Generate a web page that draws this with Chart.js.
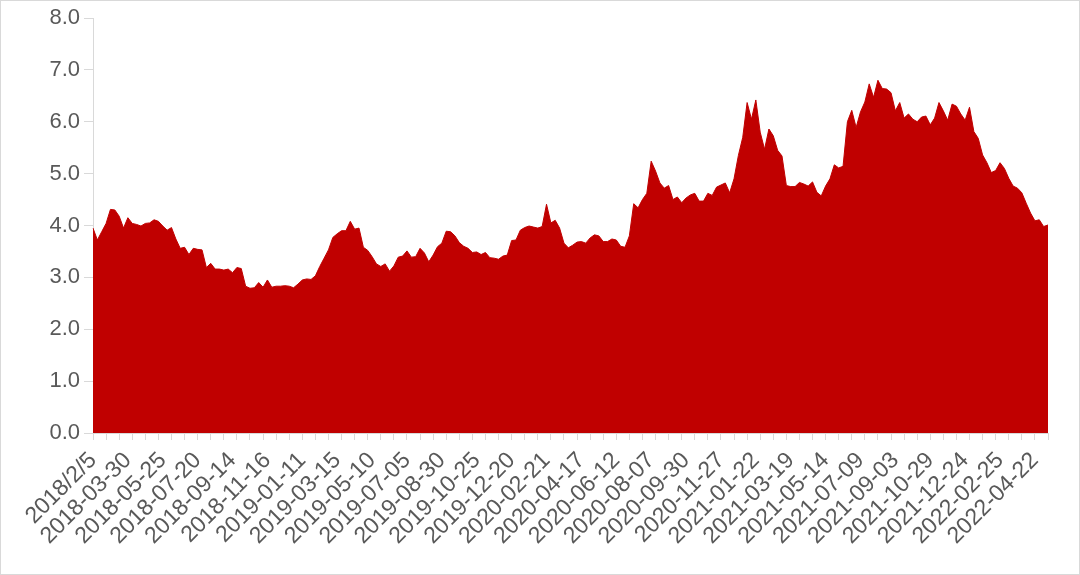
<!DOCTYPE html>
<html>
<head>
<meta charset="utf-8">
<script src="https://cdn.jsdelivr.net/npm/chart.js@4/dist/chart.umd.min.js"></script>
<style>
  html, body { margin: 0; padding: 0; background: #fff; }
  #chart { display: block; }
</style>
</head>
<body>
<canvas id="chart" width="1080" height="575"></canvas>
<script>
// weekly values, first point 2018/2/5
const values = [
  3.95, 3.72, 3.88, 4.04, 4.31, 4.30, 4.18, 3.95, 4.15, 4.04,
  4.02, 3.99, 4.04, 4.05, 4.11, 4.08, 3.99, 3.91, 3.96, 3.74,
  3.56, 3.58, 3.44, 3.56, 3.54, 3.53, 3.19, 3.27, 3.16, 3.16,
  3.14, 3.16, 3.09, 3.19, 3.17, 2.83, 2.79, 2.80, 2.90, 2.81,
  2.95, 2.81, 2.83, 2.83, 2.84, 2.83, 2.80, 2.87, 2.95, 2.97,
  2.96, 3.03, 3.21, 3.37, 3.53, 3.77, 3.84, 3.90, 3.90, 4.08,
  3.93, 3.95, 3.58, 3.52, 3.40, 3.26, 3.21, 3.26, 3.12, 3.22,
  3.39, 3.41, 3.51, 3.39, 3.40, 3.56, 3.47, 3.30, 3.43, 3.59,
  3.66, 3.89, 3.88, 3.80, 3.67, 3.60, 3.56, 3.48, 3.49, 3.44,
  3.48, 3.38, 3.37, 3.35, 3.41, 3.43, 3.71, 3.72, 3.91, 3.96,
  3.99, 3.97, 3.95, 3.98, 4.41, 4.05, 4.10, 3.95, 3.66, 3.57,
  3.62, 3.68, 3.69, 3.66, 3.76, 3.82, 3.80, 3.69, 3.69, 3.74,
  3.72, 3.60, 3.58, 3.80, 4.42, 4.34, 4.50, 4.62, 5.24, 5.05,
  4.82, 4.72, 4.77, 4.50, 4.55, 4.44, 4.53, 4.59, 4.62, 4.47,
  4.47, 4.62, 4.58, 4.74, 4.78, 4.82, 4.63, 4.90, 5.35, 5.70,
  6.37, 6.05, 6.42, 5.80, 5.47, 5.86, 5.73, 5.45, 5.34, 4.77,
  4.75, 4.75, 4.83, 4.80, 4.76, 4.84, 4.64, 4.57, 4.76, 4.90,
  5.17, 5.11, 5.14, 6.00, 6.22, 5.89, 6.19, 6.38, 6.73, 6.47,
  6.80, 6.64, 6.63, 6.56, 6.21, 6.37, 6.07, 6.15, 6.05, 6.00,
  6.09, 6.11, 5.94, 6.07, 6.37, 6.21, 6.03, 6.34, 6.30, 6.15,
  6.03, 6.28, 5.81, 5.68, 5.36, 5.21, 5.02, 5.06, 5.21, 5.10,
  4.91, 4.76, 4.72, 4.63, 4.43, 4.24, 4.09, 4.11, 3.98, 4.01
];

// one label every 8 weeks
const tickLabels = [
  "2018/2/5", "2018-03-30", "2018-05-25", "2018-07-20", "2018-09-14",
  "2018-11-16", "2019-01-11", "2019-03-15", "2019-05-10", "2019-07-05",
  "2019-08-30", "2019-10-25", "2019-12-20", "2020-02-21", "2020-04-17",
  "2020-06-12", "2020-08-07", "2020-09-30", "2020-11-27", "2021-01-22",
  "2021-03-19", "2021-05-14", "2021-07-09", "2021-09-03", "2021-10-29",
  "2021-12-24", "2022-02-25", "2022-04-22"
];
const labelEvery = 8;
const tickEvery = 3;

const yTicks = [0, 1, 2, 3, 4, 5, 6, 7, 8];

const categories = values.map((v, i) =>
  i % labelEvery === 0 ? tickLabels[i / labelEvery] || "" : ""
);

const axisGrey = "#d9d9d9";
const textGrey = "#595959";

const frame = {
  id: "frame",
  beforeDraw(chart) {
    const c = chart.ctx;
    c.save();
    c.fillStyle = "#fff";
    c.fillRect(0, 0, chart.width, chart.height);
    c.restore();
  },
  afterDraw(chart) {
    const c = chart.ctx;
    c.save();
    c.strokeStyle = axisGrey;
    c.lineWidth = 1;
    c.strokeRect(0.5, 0.5, chart.width - 1, chart.height - 1);
    c.restore();
  }
};

new Chart(document.getElementById("chart"), {
  type: "line",
  data: {
    labels: categories,
    datasets: [
      {
        data: values,
        fill: "origin",
        backgroundColor: "#c00000",
        borderColor: "#c00000",
        borderWidth: 1,
        pointRadius: 0,
        tension: 0
      }
    ]
  },
  options: {
    responsive: false,
    animation: false,
    layout: { padding: { top: 18, right: 32, left: 0, bottom: 0 } },
    plugins: {
      legend: { display: false },
      tooltip: { enabled: false }
    },
    scales: {
      x: {
        offset: false,
        afterFit: s => { s.height = 142; },
        border: { display: true, color: axisGrey },
        grid: {
          drawOnChartArea: false,
          tickLength: 7,
          color: ctx => (ctx.index % tickEvery === 0 ? axisGrey : "transparent"),
          tickColor: ctx => (ctx.index % tickEvery === 0 ? axisGrey : "transparent")
        },
        ticks: {
          autoSkip: false,
          minRotation: 45,
          maxRotation: 45,
          padding: 7,
          color: textGrey,
          font: { family: "'Liberation Sans', Arial, sans-serif", size: 23 }
        }
      },
      y: {
        min: yTicks[0],
        max: yTicks[yTicks.length - 1],
        afterFit: s => { s.width = 93; },
        afterBuildTicks: s => { s.ticks = yTicks.map(v => ({ value: v })); },
        border: { display: true, color: axisGrey },
        grid: {
          drawOnChartArea: false,
          tickLength: 9,
          color: axisGrey
        },
        ticks: {
          padding: 4,
          color: textGrey,
          callback: v => v.toFixed(1),
          font: { family: "'Liberation Sans', Arial, sans-serif", size: 22 }
        }
      }
    }
  },
  plugins: [frame]
});
</script>
</body>
</html>
